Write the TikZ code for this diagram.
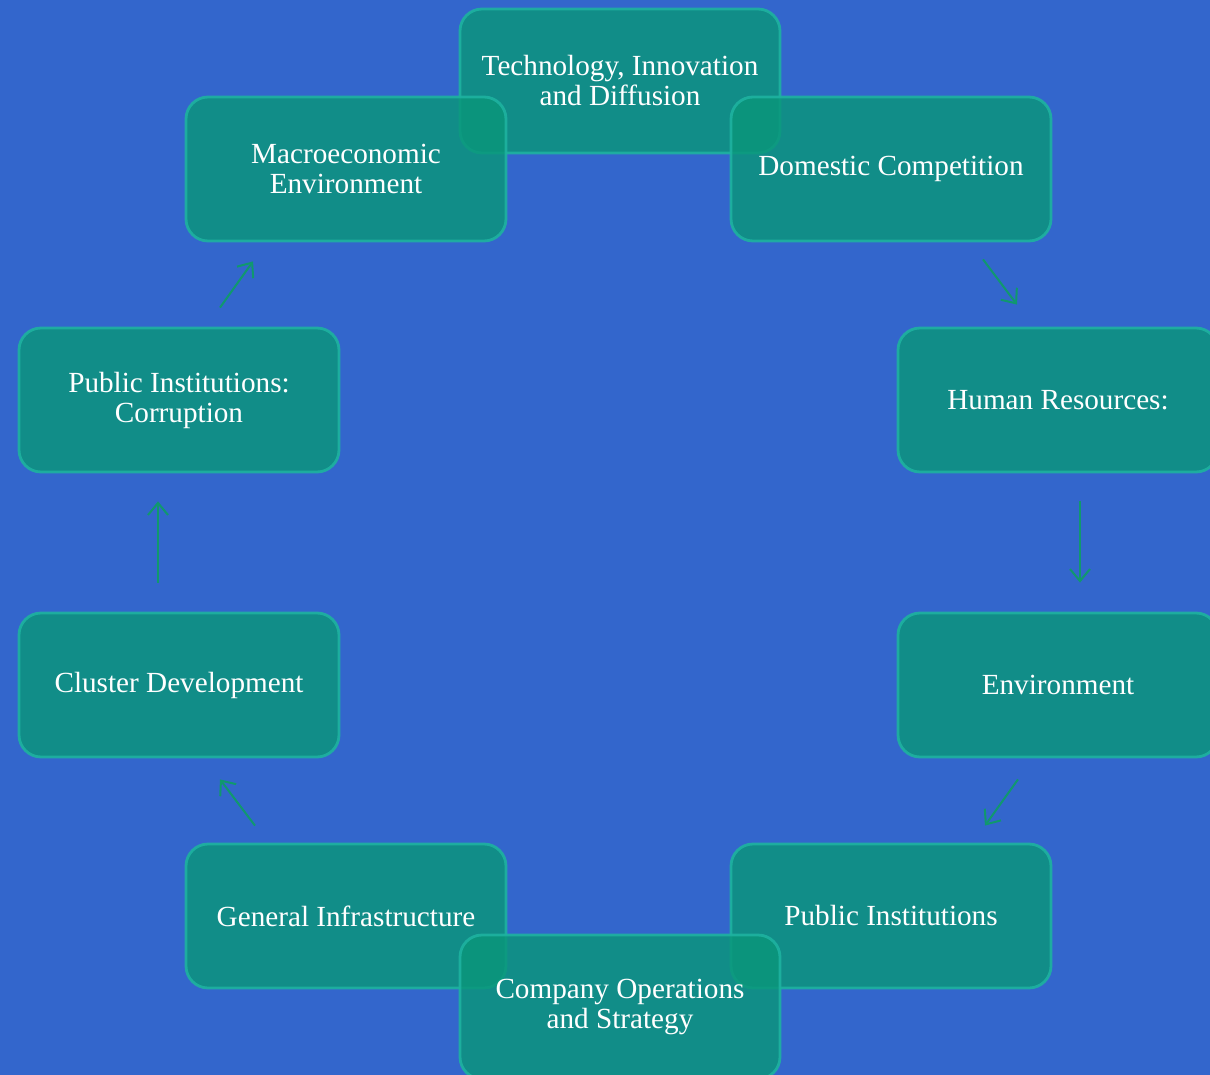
\documentclass[tikz,border=0pt]{standalone}
\usepackage{fontspec}
\setmainfont{Liberation Serif}
\usetikzlibrary{positioning, arrows.meta}
\definecolor{bgblue}{RGB}{51,102,204}
\definecolor{boxteal}{RGB}{10,150,122}
\definecolor{edgeteal}{RGB}{30,178,160}
\definecolor{arrowgreen}{RGB}{16,152,110}
\tikzset{factor box/.style={rectangle, rounded corners=11pt, draw=edgeteal, line width=1.4pt, fill=boxteal, fill opacity=0.82, draw opacity=0.9, text opacity=1, text=white, minimum width=160pt, minimum height=72pt, align=center, font=\fontsize{14.6}{15}\selectfont},
  arrow/.style={-{Straight Barb[length=6pt,width=10pt]}, draw=arrowgreen, line width=1pt}
}

\begin{document}
\begin{tikzpicture}[x=0.5pt, y=-0.5pt]
          \useasboundingbox (0,0) rectangle (1210,1075);
          \fill[bgblue] (0,0) rectangle (1210,1075);
          \clip (0,0) rectangle (1210,1075);
          % Top
          \node[factor box] (tech) at (620,81) {Technology, Innovation\\and Diffusion};
          \node[factor box] (macro) at (346,169) {Macroeconomic\\Environment};
          \node[factor box] (domestic) at (891,169) {Domestic Competition};
          % Middle
          \node[factor box] (corrupt) at (179,400) {Public Institutions:\\Corruption};
          \node[factor box] (human) at (1058,400) {Human Resources:};
          \node[factor box] (cluster) at (179,685) {Cluster Development};
          \node[factor box] (environ) at (1058,685) {Environment};
          % Bottom
          \node[factor box] (infra) at (346,916) {General Infrastructure};
          \node[factor box] (pubinst) at (891,916) {Public Institutions};
          \node[factor box] (company) at (620,1007) {Company Operations\\and Strategy};
          % Connections
          \draw[arrow] ([shift={(92,17)}]domestic.south) -- ([shift={(-41,-22)}]human.north);
          \draw[arrow] ([shift={(22,28)}]human.south) -- ([shift={(22,-29)}]environ.north);
          \draw[arrow] ([shift={(-40,21)}]environ.south) -- ([shift={(94,-17)}]pubinst.north);
          \draw[arrow] ([shift={(-91,-17)}]infra.north) -- ([shift={(41,21)}]cluster.south);
          \draw[arrow] ([shift={(-21,-29)}]cluster.north) -- ([shift={(-21,28)}]corrupt.south);
          \draw[arrow] ([shift={(41,-19)}]corrupt.north) -- ([shift={(-93,19)}]macro.south);
        \end{tikzpicture}
\end{document}
